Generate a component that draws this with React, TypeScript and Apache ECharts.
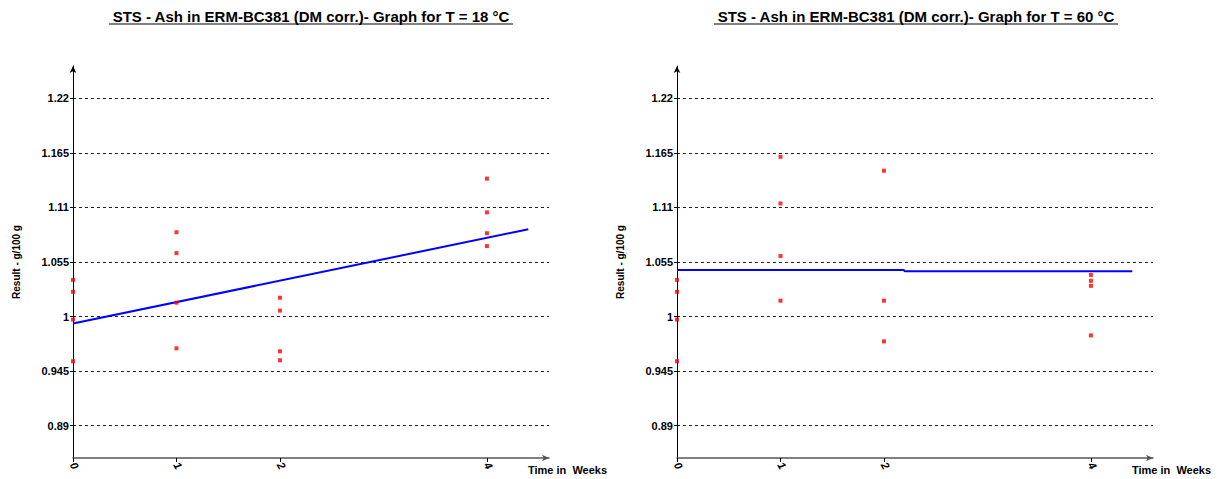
import React, { useEffect, useRef } from 'react';
import * as echarts from 'echarts';

// Data
const weeks18 = [0, 0, 0, 0, 1, 1, 1, 1, 2, 2, 2, 2, 4, 4, 4, 4];
const results18 = [1.037, 1.025, 0.997, 0.955, 1.085, 1.064, 1.014, 0.968, 1.019, 1.006, 0.965, 0.956, 1.139, 1.105, 1.084, 1.071];
const weeks60 = [0, 0, 0, 0, 1, 1, 1, 1, 2, 2, 2, 4, 4, 4, 4];
const results60 = [1.037, 1.025, 0.997, 0.955, 1.161, 1.114, 1.061, 1.016, 1.147, 1.016, 0.975, 1.042, 1.036, 1.031, 0.981];
const fitWeeks18 = [0, 4.4];
const fitResults18 = [0.993, 1.088];
const fitWeeks60 = [0, 2.19, 2.2, 4.4];
const fitResults60 = [1.047, 1.047, 1.0457, 1.0457];
const yTicks = [0.89, 0.945, 1, 1.055, 1.11, 1.165, 1.22];
const xTicks = [0, 1, 2, 4];
const titles = [
  'STS - Ash in ERM-BC381 (DM corr.)- Graph for T = 18 °C',
  'STS - Ash in ERM-BC381 (DM corr.)- Graph for T = 60 °C',
];
const xName = 'Time in  Weeks';
const yName = 'Result - g/100 g';

const FONT = '"Liberation Sans", Arial, sans-serif';

function pairs(xs: number[], ys: number[]) {
  return xs.map((x, i) => [x, ys[i]]);
}

export default function App() {
  const ref = useRef<HTMLDivElement>(null);
  useEffect(() => {
    if (!ref.current) return;
    const chart = echarts.init(ref.current, undefined, { renderer: 'svg' });
    const gridLefts = [73, 677];
    const grids = gridLefts.map((l) => ({ left: l, top: 66, width: 476, height: 392 }));
    const xAxes = gridLefts.map((_, i) => ({
      type: 'value',
      gridIndex: i,
      min: 0,
      max: 4.6,
      name: xName,
      nameLocation: 'end',
      nameGap: -21,
      nameTextStyle: { fontFamily: FONT, fontWeight: 'bold', fontSize: 11, color: '#000', align: 'left', verticalAlign: 'top', padding: [6, 0, 0, 0] },
      axisLine: { show: true, symbol: ['none', 'arrow'], symbolSize: [5, 7], lineStyle: { color: '#555', width: 1.5 } },
      axisTick: { show: true, customValues: xTicks, length: 4, inside: false, lineStyle: { color: '#000' } },
      axisLabel: {
        customValues: xTicks,
        rotate: -60,
        fontFamily: FONT,
        fontWeight: 'bold',
        fontStyle: 'italic',
        fontSize: 11,
        color: '#000',
        margin: 5,
        formatter: (v: number) => String(v),
      },
      splitLine: { show: false },
    }));
    const yAxes = gridLefts.map((_, i) => ({
      type: 'value',
      gridIndex: i,
      min: 0.8575,
      max: 1.2525,
      name: yName,
      nameLocation: 'middle',
      nameGap: 52,
      nameRotate: 90,
      nameTextStyle: { fontFamily: FONT, fontWeight: 'bold', fontSize: 10, color: '#000' },
      axisLine: { show: true, symbol: ['none', 'arrow'], symbolSize: [5, 7], lineStyle: { color: '#000', width: 1 } },
      axisTick: { show: true, customValues: yTicks, length: 3, lineStyle: { color: '#000' } },
      axisLabel: {
        customValues: yTicks,
        fontFamily: FONT,
        fontWeight: 'bold',
        fontSize: 11,
        color: '#000',
        margin: 4,
        formatter: (v: number) => String(Number(v.toFixed(3))),
      },
      splitLine: { show: true, lineStyle: { color: '#222', type: [3, 3], width: 1 } },
    }));
    const series: any[] = [];
    const sets = [
      [weeks18, results18, fitWeeks18, fitResults18],
      [weeks60, results60, fitWeeks60, fitResults60],
    ];
    sets.forEach(([wx, ry, fx, fy], i) => {
      series.push({
        type: 'line',
        xAxisIndex: i,
        yAxisIndex: i,
        data: pairs(fx, fy),
        showSymbol: false,
        lineStyle: { color: '#0000ff', width: 2 },
        z: 3,
      });
      series.push({
        type: 'scatter',
        xAxisIndex: i,
        yAxisIndex: i,
        data: pairs(wx, ry),
        symbol: 'rect',
        symbolSize: 4,
        itemStyle: { color: '#ff0000' },
        z: 4,
      });
    });
    const centers = [311, 916];
    const graphic: any[] = [];
    centers.forEach((c, i) => {
      graphic.push({
        type: 'text',
        x: c,
        y: 16,
        style: { text: titles[i], align: 'center', verticalAlign: 'middle', font: `bold 15px ${FONT}`, fill: '#000' },
      });
      graphic.push({
        type: 'line',
        shape: { x1: c - 202, y1: 24, x2: c + 202, y2: 24 },
        style: { stroke: '#000', lineWidth: 1 },
      });
    });
    chart.setOption({
      animation: false,
      backgroundColor: '#fff',
      grid: grids,
      xAxis: xAxes,
      yAxis: yAxes,
      series,
      graphic,
    });
    return () => chart.dispose();
  }, []);
  return <div ref={ref} style={{ position: 'fixed', left: 0, top: 0, width: 1222, height: 479 }} />;
}
